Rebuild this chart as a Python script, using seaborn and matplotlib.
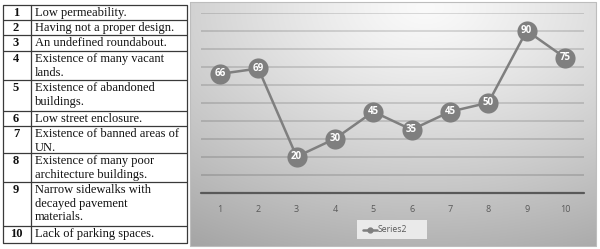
import numpy as np
import pandas as pd
import matplotlib
matplotlib.use("Agg")
import matplotlib.pyplot as plt
import seaborn as sns

# ---- data ----
categories = [1, 2, 3, 4, 5, 6, 7, 8, 9, 10]
values = [66, 69, 20, 30, 45, 35, 45, 50, 90, 75]
series_name = "Series2"
table_numbers = ["1", "2", "3", "4", "5", "6", "7", "8", "9", "10"]
table_texts = [
    ["Low permeability."],
    ["Having not a proper design."],
    ["An undefined roundabout."],
    ["Existence of many vacant", "lands."],
    ["Existence of abandoned", "buildings."],
    ["Low street enclosure."],
    ["Existence of banned areas of", "UN."],
    ["Existence of many poor", "architecture buildings."],
    ["Narrow sidewalks with", "decayed pavement", "materials."],
    ["Lack of parking spaces."],
]

sns.set_theme(style="white")
W, H = 600, 249
fig = plt.figure(figsize=(W / 100, H / 100), dpi=100)

# background canvas axes in pixel coords
bg = fig.add_axes([0, 0, 1, 1])
bg.set_xlim(0, W)
bg.set_ylim(H, 0)
bg.axis("off")

# ---- table ----
row_bounds = [5, 20, 35, 51, 80, 111, 126, 153, 182, 226, 243]
tx0, tx1, tx2 = 2.5, 30.5, 186.5
lc = "#3a3a3a"
for yb in row_bounds:
    bg.plot([tx0, tx2], [yb, yb], color=lc, lw=0.9, solid_capstyle="butt")
for xb in (tx0, tx1, tx2):
    bg.plot([xb, xb], [row_bounds[0], row_bounds[-1]], color=lc, lw=0.9)
line_h = 13.6
for i, (num, lines) in enumerate(zip(table_numbers, table_texts)):
    top = row_bounds[i]
    bg.text(16, top + 8, num, ha="center", va="center", family="Liberation Serif",
            fontweight="bold", fontsize=9, color="#111111")
    for j, ln in enumerate(lines):
        bg.text(35, top + 8 + j * line_h, ln, ha="left", va="center",
                family="Liberation Serif", fontsize=9, color="#111111")

# ---- chart panel background (gradient) ----
px0, px1, py0, py1 = 190, 596, 2, 246
nx, ny = 300, 200
gx = np.linspace(0, 1, nx)
gy = np.linspace(0, 1, ny)
GX, GY = np.meshgrid(gx, gy)
d = np.sqrt(((GX - 0.58) / 1.0) ** 2 + ((GY - 0.02) / 1.05) ** 2)
shade = 0.98 - 0.30 * np.clip(d, 0, 1.2) ** 1.2
img = np.dstack([shade, shade, shade])
bg.imshow(img, extent=[px0, px1, py1, py0], aspect="auto", zorder=0, interpolation="bilinear")
bg.plot([px0, px1, px1, px0, px0], [py0, py0, py1, py1, py0], color="#bdbdbd", lw=0.8)

# legend box
bg.add_patch(plt.Rectangle((357, 220), 70, 19, facecolor="#f0f0f0", edgecolor="none", alpha=0.9, zorder=1))
bg.plot([363, 377], [229.5, 229.5], color="#7f7f7f", lw=1.8, zorder=2)
bg.plot([370], [229.5], marker="o", markersize=3.5, color="#7f7f7f", zorder=3)
bg.text(378, 229.5, series_name, ha="left", va="center", fontsize=6.2, color="#595959",
        family="Open Sans", zorder=3)

# ---- line chart ----
left = 200.8 / W
right = 584.2 / W
top_y = 12.7
bot_y = 192.7
ax = fig.add_axes([left, (H - bot_y) / H, right - left, (bot_y - top_y) / H])
ax.patch.set_alpha(0)
df = pd.DataFrame({"cat": categories, "val": values})
for yv in range(10, 101, 10):
    ax.axhline(yv, color="black", alpha=0.17, lw=1.1, zorder=0)
ax.axhline(0, color="#595959", lw=1.6, zorder=1, clip_on=False)
sns.lineplot(data=df, x="cat", y="val", ax=ax, color="#7f7f7f", lw=1.8, marker="o",
             markersize=14.5, markeredgewidth=0, zorder=3, legend=False)
for c, v in zip(categories, values):
    ax.text(c, v, str(v), ha="center", va="center", color="white", fontsize=7,
            fontweight="bold", family="Open Sans", zorder=4)
ax.set_xlim(0.5, 10.5)
ax.set_ylim(0, 100)
ax.set_xticks(categories)
ax.set_xticklabels([str(c) for c in categories], fontsize=6.5, color="#595959", family="Open Sans")
ax.tick_params(axis="x", length=0, pad=9)
ax.set_yticks([])
ax.set_xlabel("")
ax.set_ylabel("")
for s in ax.spines.values():
    s.set_visible(False)

fig.savefig("out.png", dpi=100)
